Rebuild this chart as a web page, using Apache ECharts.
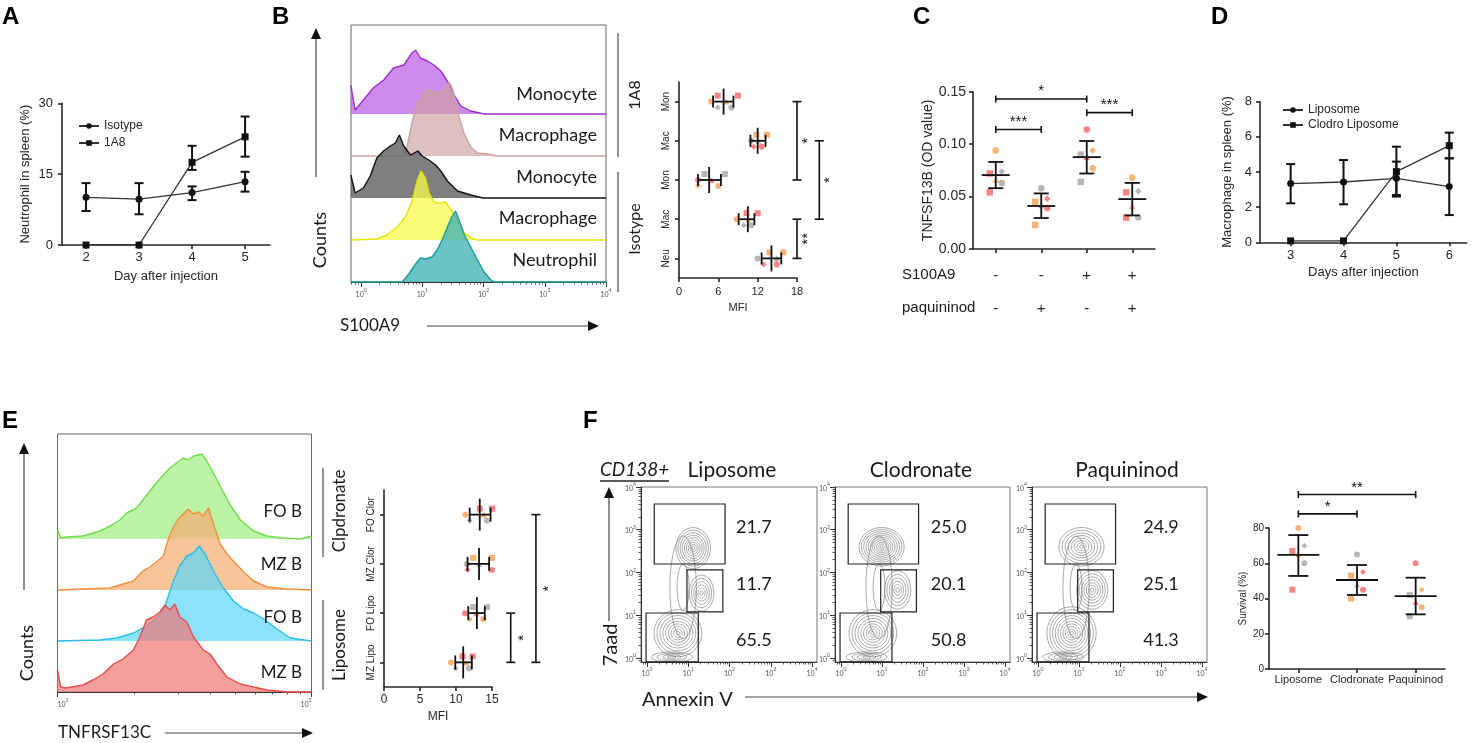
<!DOCTYPE html>
<html><head><meta charset="utf-8">
<script src="https://cdn.jsdelivr.net/npm/echarts@6/dist/echarts.min.js"></script>
<style>html,body{margin:0;padding:0;background:#fff}#c{width:1477px;height:743px}</style>
</head><body><div id="c"></div>
<script>
// ================= DATA =================
// Panel A
const A_DAYS = [2, 3, 4, 5];
const A_ISOTYPE = [10.1, 9.7, 11.1, 13.4];
const A_ISOTYPE_LO = [7.2, 6.5, 9.5, 11.3];
const A_ISOTYPE_HI = [13.1, 13.1, 12.4, 15.5];
const A_1A8 = [0, 0, 17.5, 22.9];
const A_1A8_LO = [0, 0, 15.9, 18.7];
const A_1A8_HI = [0, 0, 21.0, 27.2];

// Panel B histograms [S100A9 intensity, counts]
const B_HIST_LABELS = ['Monocyte', 'Macrophage', 'Monocyte', 'Macrophage', 'Neutrophil'];
const B_MON_1A8 = [[0.68,29],[0.80,4],[1.09,14],[1.58,26],[2.34,34],[3.39,46],[5.0,49],[6.76,61],[7.76,64],[9.33,56],[12.0,53],[15.5,49],[20.0,43],[25.7,33],[33.1,19],[42.7,8],[61.7,3],[102,0],[10000,0]];
const B_MAC_1A8 = [[0.68,0],[5.0,0],[5.62,9],[6.76,33],[8.32,53],[10.7,63],[12.0,67],[15.5,64],[20.0,64],[24.0,69],[28.2,73],[30.9,68],[35.5,53],[39.8,39],[47.9,23],[61.7,9],[79.4,3],[117,2],[162,0],[10000,0]];
const B_MON_ISO = [[0.68,23],[0.80,5],[1.09,10],[1.41,22],[1.81,40],[2.33,47],[3.0,52],[3.63,55],[4.22,63],[4.97,52],[6.4,43],[8.45,47],[9.95,42],[12.8,38],[16.5,33],[20.0,27],[25.7,17],[37.6,7],[61.7,3],[97.7,0],[10000,0]];
const B_MAC_ISO = [[0.68,0],[1.81,1],[2.63,5],[3.89,13],[5.25,23],[6.76,38],[8.32,60],[9.55,69],[11.2,62],[12.9,47],[15.5,38],[18.6,37],[24.0,38],[29.5,30],[37.6,20],[47.9,8],[61.7,2],[79.4,0],[10000,0]];
const B_NEU_ISO = [[0.68,0],[4.68,0],[6.03,8],[7.76,18],[9.33,24],[11.2,23],[14.5,25],[17.8,33],[21.4,43],[25.7,55],[30.2,65],[34.7,71],[39.8,62],[47.9,48],[61.7,35],[79.4,22],[102,10],[132,2],[151,0],[10000,0]];

// Panel B dot plot (MFI)
const B_CATS = ['Mon', 'Mac', 'Mon', 'Mac', 'Neu'];
const B_MEAN = [6.8, 12.0, 4.6, 10.5, 14.1];
const B_SD_LO = [5.2, 10.9, 2.9, 9.1, 12.6];
const B_SD_HI = [8.3, 13.2, 6.4, 11.5, 15.6];
const B_POINTS = [[4.9,5.9,5.9,7.2,8.0,9.0],[11.0,11.4,11.8,12.1,12.6,13.4],[2.9,2.9,3.9,5.0,6.0,7.0],[8.8,9.9,10.3,10.6,11.0,12.0],[12.0,12.9,13.8,14.9,14.9,15.9]];
const B_BRACKETS = [[0, 2, 18.0, '*'], [1, 3, 21.4, '*'], [3, 4, 18.0, '**']];

// Panel C
const C_CATS = ['S-P-', 'S-P+', 'S+P-', 'S+P+'];
const C_S100A9 = ['-', '-', '+', '+'];
const C_PAQ = ['-', '+', '-', '+'];
const C_MEAN = [0.0705, 0.041, 0.0876, 0.0476];
const C_SD_LO = [0.058, 0.0295, 0.072, 0.032];
const C_SD_HI = [0.083, 0.053, 0.103, 0.063];
const C_POINTS = [[0.094,0.074,0.072,0.066,0.063,0.054],[0.058,0.048,0.045,0.042,0.039,0.023],[0.114,0.094,0.090,0.088,0.077,0.064],[0.068,0.055,0.054,0.041,0.030,0.030]];
const C_BRACKETS = [[0, 2, 0.143, '*'], [0, 1, 0.114, '***'], [2, 3, 0.130, '***']];

// Panel D
const D_DAYS = [3, 4, 5, 6];
const D_LIPO = [3.34, 3.43, 3.64, 3.17];
const D_LIPO_LO = [2.22, 2.16, 2.6, 1.55];
const D_LIPO_HI = [4.45, 4.68, 4.59, 4.78];
const D_CLODRO = [0.08, 0.08, 4.02, 5.5];
const D_CLODRO_LO = [0.08, 0.08, 2.69, 4.78];
const D_CLODRO_HI = [0.08, 0.08, 5.44, 6.24];

// Panel E histograms [TNFRSF13C intensity, counts]
const E_HIST_LABELS = ['FO B', 'MZ B', 'FO B', 'MZ B'];
const E_FO_CLOR = [[10,9],[10.3,1],[10.8,2],[12.6,3],[14.7,8],[16.1,13],[17.6,19],[18.7,26],[20.5,31],[21.7,39],[23.1,48],[24.5,56],[26.1,64],[27.7,71],[29.4,76],[31.3,81],[32.7,79],[34.3,83],[37.0,85],[38.7,78],[41.1,66],[43.7,53],[47.9,34],[52.5,19],[59.2,8],[66.8,3],[77.6,1],[90.6,0],[100,3]];
const E_MZ_CLOR = [[10,0],[12.6,1],[16.1,2],[19.9,9],[21.7,19],[23.1,23],[24.5,28],[26.1,34],[27.3,51],[28.6,63],[29.9,71],[31.3,76],[32.7,81],[34.3,76],[35.9,78],[37.5,74],[39.3,82],[41.1,66],[43.7,46],[46.5,36],[49.3,29],[54.1,18],[59.2,9],[66.8,3],[80.2,1],[100,0]];
const E_FO_LIPO = [[10,0],[14.7,1],[17.1,3],[19.9,8],[22.4,15],[24.5,23],[26.1,30],[27.3,45],[28.6,60],[30.3,75],[32.3,85],[34.3,88],[36.1,95],[38.1,87],[41.1,70],[45.0,53],[49.3,40],[54.1,32],[59.2,28],[64.9,22],[73.1,12],[82.6,3],[100,0]];
const E_MZ_LIPO = [[10,22],[10.3,5],[10.8,4],[12.6,7],[13.8,12],[15.1,18],[16.6,28],[18.1,33],[19.9,42],[21.1,55],[22.4,72],[23.8,75],[25.3,80],[26.5,87],[27.7,82],[29.0,88],[30.3,75],[32.3,70],[34.3,55],[37.5,42],[39.9,38],[42.4,28],[46.5,15],[52.5,8],[59.2,5],[66.8,2],[80.2,0],[100,0]];

// Panel E dot plot
const E_CATS = ['FO Clor', 'MZ Clor', 'FO Lipo', 'MZ Lipo'];
const E_MEAN = [13.3, 13.2, 12.9, 11.0];
const E_SD_LO = [11.9, 11.6, 11.7, 9.9];
const E_SD_HI = [14.8, 14.6, 14.0, 12.2];
const E_POINTS = [[11.3,11.9,13.3,13.9,14.3,15.0],[11.5,11.6,12.4,13.2,15.0,15.0],[11.25,11.9,12.4,12.8,13.8,14.3],[9.3,9.95,10.9,11.4,11.8,12.3]];
const E_BRACKETS = [[2, 3, 17.6, '*'], [0, 3, 21.1, '*']];

// Panel F flow plots (Annexin V x, 7aad y)
const F_TITLES = ['Liposome', 'Clodronate', 'Paquininod'];
const F_GATE_PCT = [[21.7, 11.7, 65.5], [25.0, 20.1, 50.8], [24.9, 25.1, 41.3]];
const F_GATES = [[1.5, 78, 158, 4000], [9.3, 69, 12, 115], [0.95, 17.5, 0.81, 11.3]];
// populations: [centre AnnexinV, centre 7aad, spread x (decades), spread y (decades), contour levels]
const F_POPS = [
  [[13.2,372,0.42,0.48,9],[21,33,0.30,0.42,6],[5.6,3.8,0.58,0.55,9],[4.0,1.05,0.5,0.12,4],[7.5,45,0.32,1.2,2]],
  [[9.8,400,0.55,0.45,11],[24,39,0.32,0.45,6],[6.0,3.8,0.58,0.55,9],[4.2,1.05,0.5,0.12,4],[8.5,45,0.32,1.2,2]],
  [[11.5,400,0.55,0.45,8],[21,39,0.38,0.45,7],[6.6,3.8,0.6,0.62,10],[4.1,1.05,0.5,0.12,4],[8.5,45,0.32,1.2,2]]
];
const F_LABEL_X = [390, 420, 1000];
const F_LABEL_Y = [1150, 54, 2.6];

// Panel F survival
const F_CATS = ['Liposome', 'Clodronate', 'Paquininod'];
const F_MEAN = [64.7, 50.5, 41.4];
const F_SD_LO = [52.8, 42.0, 31.0];
const F_SD_HI = [76.0, 59.0, 51.8];
const F_POINTS = [[80,70,67,65,60,45],[65,55,53,48,45,40],[60,45,42,38,35,30]];
const F_BRACKETS = [[0, 1, 88, '*'], [0, 2, 99, '**']];

// ================= STYLE =================
const FONT_GP = '"Liberation Sans", Arial, sans-serif';
const FONT_FJ = 'Lato, "Open Sans", sans-serif';
const INK = '#262626';
const POINT_COLORS = ['#f5a65b', '#a9a9a9', '#f46e6e', '#f5a65b', '#a9a9a9', '#f46e6e'];
const POINT_SYMBOLS = ['circle', 'diamond', 'rect', 'triangle', 'circle', 'rect'];
const JITTER = [0, 6, -6, 0, 6, -6];
const B_LINE = ['#9b30d0', '#c9a3a3', '#111111', '#e6e600', '#1a9a9a'];
const B_FILL = ['rgba(190,100,228,0.75)', 'rgba(205,160,160,0.65)', 'rgba(105,105,105,0.85)', 'rgba(250,250,80,0.75)', 'rgba(70,180,180,0.8)'];
const E_LINE = ['#6fdc4a', '#f0903c', '#2bbde8', '#e84c4c'];
const E_FILL = ['rgba(160,240,130,0.7)', 'rgba(245,175,115,0.72)', 'rgba(90,215,250,0.7)', 'rgba(240,120,120,0.72)'];

// ================= BUILD =================
const grid = [], xAxis = [], yAxis = [], series = [], G = [];
function addGrid(g) { grid.push(Object.assign({containLabel: false}, g)); return grid.length - 1; }
function addX(a) { xAxis.push(a); return xAxis.length - 1; }
function addY(a) { yAxis.push(a); return yAxis.length - 1; }
const gpLine = {show: true, onZero: false, lineStyle: {color: INK, width: 1.6}};
const gpTick = (len, vals) => Object.assign({show: true, length: len, lineStyle: {color: INK, width: 1.6}}, vals ? {customValues: vals} : {});
const gpLabel = (size, margin, extra) => Object.assign({fontSize: size, margin, color: INK, fontFamily: FONT_GP}, extra || {});
const gpName = size => ({fontSize: size, color: INK, fontFamily: FONT_GP});
const noSplit = {show: false};

function supFmt(v) { const e = Math.round(Math.log10(v)); return '{b|10}{s|' + e + '}'; }
const SUP_RICH = {b: {fontSize: 7, color: '#555', fontFamily: FONT_FJ, verticalAlign: 'bottom', lineHeight: 10},
                  s: {fontSize: 5, color: '#555', fontFamily: FONT_FJ, verticalAlign: 'top', lineHeight: 10}};
function minorLogTicks(lo, hi) {
  const out = [];
  for (let d = Math.floor(Math.log10(lo)); d <= Math.ceil(Math.log10(hi)); d++)
    for (let k = 2; k <= 9; k++) { const v = k * Math.pow(10, d); if (v > lo && v < hi) out.push(v); }
  return out;
}
function logAxisPair(kind, g, min, max, majors, showLabels, position, labelExtra) {
  const add = kind === 'x' ? addX : addY;
  const base = {gridIndex: g, type: 'log', logBase: 10, min, max, position, splitLine: noSplit, minorTick: {show: false}, minorSplitLine: {show: false}};
  const i = add(Object.assign({}, base, {
    axisLine: {show: true, onZero: false, lineStyle: {color: '#333', width: 1}},
    axisTick: {show: true, customValues: majors, length: 5, lineStyle: {color: '#333', width: 1}},
    axisLabel: Object.assign({show: showLabels, customValues: majors, formatter: supFmt, rich: SUP_RICH, margin: 4}, labelExtra || {})
  }));
  add(Object.assign({}, base, {
    axisLine: {show: false},
    axisTick: {show: true, customValues: minorLogTicks(min, max), length: 2.5, lineStyle: {color: '#333', width: 0.8}},
    axisLabel: {show: false}
  }));
  return i;
}
function L(x1, y1, x2, y2, st) { return {type: 'line', shape: {x1, y1, x2, y2}, style: st}; }

function errBarSeries(xi, yi, xs, lo, hi) {
  const data = [];
  xs.forEach((x, i) => { if (hi[i] > lo[i]) data.push([x, lo[i], hi[i]]); });
  return {type: 'custom', xAxisIndex: xi, yAxisIndex: yi, data, encode: {x: 0, y: [1, 2]}, z: 4, silent: true,
    renderItem: (p, api) => {
      const x = api.value(0), a = api.coord([x, api.value(1)]), b = api.coord([x, api.value(2)]);
      const st = {stroke: '#111', lineWidth: 2};
      return {type: 'group', children: [L(a[0], a[1], b[0], b[1], st), L(a[0] - 4.5, a[1], a[0] + 4.5, a[1], st), L(b[0] - 4.5, b[1], b[0] + 4.5, b[1], st)]};
    }};
}
function dotSeries(xi, yi, pts, valueOnX, size) {
  const data = [];
  pts.forEach((arr, c) => arr.forEach((v, k) => {
    data.push({value: valueOnX ? [v, c] : [c, v], symbol: POINT_SYMBOLS[k % 6],
      symbolOffset: valueOnX ? [0, JITTER[k % 6]] : [JITTER[k % 6], 0],
      itemStyle: {color: POINT_COLORS[(k + c) % 6], opacity: 0.85}});
  }));
  return {type: 'scatter', xAxisIndex: xi, yAxisIndex: yi, data, symbolSize: size, z: 2, silent: true};
}
function meanSdSeries(xi, yi, means, lo, hi, valueOnX, meanHalf, capHalf) {
  return {type: 'custom', xAxisIndex: xi, yAxisIndex: yi, z: 5, silent: true, clip: false,
    data: means.map((m, c) => valueOnX ? [m, c, lo[c], hi[c]] : [c, m, lo[c], hi[c]]),
    encode: valueOnX ? {x: [0, 2, 3], y: 1} : {x: 0, y: [1, 2, 3]},
    renderItem: (p, api) => {
      const st = {stroke: '#111', lineWidth: 1.8};
      let ch;
      if (valueOnX) {
        const c = api.value(1), pm = api.coord([api.value(0), c]), pl = api.coord([api.value(2), c]), ph = api.coord([api.value(3), c]);
        ch = [L(pm[0], pm[1] - meanHalf, pm[0], pm[1] + meanHalf, st), L(pl[0], pl[1], ph[0], ph[1], st),
              L(pl[0], pl[1] - capHalf, pl[0], pl[1] + capHalf, st), L(ph[0], ph[1] - capHalf, ph[0], ph[1] + capHalf, st)];
      } else {
        const c = api.value(0), pm = api.coord([c, api.value(1)]), pl = api.coord([c, api.value(2)]), ph = api.coord([c, api.value(3)]);
        ch = [L(pm[0] - meanHalf, pm[1], pm[0] + meanHalf, pm[1], st), L(pl[0], pl[1], ph[0], ph[1], st),
              L(pl[0] - capHalf, pl[1], pl[0] + capHalf, pl[1], st), L(ph[0] - capHalf, ph[1], ph[0] + capHalf, ph[1], st)];
      }
      return {type: 'group', children: ch};
    }};
}
function bracketSeries(xi, yi, brackets, valueOnX, capHalf, textGap, fontSize) {
  return {type: 'custom', xAxisIndex: xi, yAxisIndex: yi, clip: false, z: 6, silent: true,
    data: brackets.map(b => valueOnX ? [b[2], b[0], b[1]] : [b[0], b[2], b[1]]),
    encode: valueOnX ? {x: 0, y: [1, 2]} : {x: [0, 2], y: 1},
    renderItem: (p, api) => {
      const lab = brackets[p.dataIndex][3];
      const st = {stroke: '#111', lineWidth: 1.6};
      let a, b, tx, ty, rot = 0;
      const ch = [];
      if (valueOnX) {
        const lv = api.value(0); a = api.coord([lv, api.value(1)]); b = api.coord([lv, api.value(2)]);
        ch.push(L(a[0], a[1], b[0], b[1], st), L(a[0] - capHalf, a[1], a[0] + capHalf, a[1], st), L(b[0] - capHalf, b[1], b[0] + capHalf, b[1], st));
        tx = a[0] + textGap; ty = (a[1] + b[1]) / 2; rot = Math.PI / 2;
      } else {
        const lv = api.value(1); a = api.coord([api.value(0), lv]); b = api.coord([api.value(2), lv]);
        ch.push(L(a[0], a[1], b[0], b[1], st), L(a[0], a[1] - capHalf, a[0], a[1] + capHalf, st), L(b[0], b[1] - capHalf, b[0], b[1] + capHalf, st));
        tx = (a[0] + b[0]) / 2; ty = a[1] - textGap;
      }
      ch.push({type: 'text', x: tx, y: ty, rotation: rot, style: {text: lab, fill: '#111', font: fontSize + 'px ' + FONT_GP, align: 'center', verticalAlign: 'middle'}});
      return {type: 'group', children: ch};
    }};
}

// ---------- Panel A ----------
const gA = addGrid({left: 62, top: 103.3, width: 208, height: 141.7});
const xA = addX({gridIndex: gA, type: 'value', min: 1.547, max: 5.47, axisLine: gpLine, axisTick: gpTick(4, A_DAYS), axisLabel: gpLabel(13, 6, {customValues: A_DAYS}), splitLine: noSplit,
  name: 'Day after injection', nameLocation: 'middle', nameGap: 25, nameTextStyle: gpName(13)});
const yA = addY({gridIndex: gA, type: 'value', min: 0, max: 30, interval: 15, axisLine: gpLine, axisTick: gpTick(4), axisLabel: gpLabel(13, 9), splitLine: noSplit,
  name: 'Neutrophil in spleen (%)', nameLocation: 'middle', nameGap: 30, nameTextStyle: gpName(13)});
series.push({type: 'line', name: 'Isotype', xAxisIndex: xA, yAxisIndex: yA, data: A_DAYS.map((d, i) => [d, A_ISOTYPE[i]]), symbol: 'circle', symbolSize: 7, lineStyle: {color: '#333', width: 1.3}, itemStyle: {color: '#111'}, z: 3});
series.push({type: 'line', name: '1A8', xAxisIndex: xA, yAxisIndex: yA, data: A_DAYS.map((d, i) => [d, A_1A8[i]]), symbol: 'rect', symbolSize: 7, lineStyle: {color: '#333', width: 1.3}, itemStyle: {color: '#111'}, z: 3});
series.push(errBarSeries(xA, yA, A_DAYS, A_ISOTYPE_LO, A_ISOTYPE_HI));
series.push(errBarSeries(xA, yA, A_DAYS, A_1A8_LO, A_1A8_HI));

// ---------- Panel B histograms ----------
const B_HISTS = [B_MON_1A8, B_MAC_1A8, B_MON_ISO, B_MAC_ISO, B_NEU_ISO];
const gBf = addGrid({left: 351, top: 25, width: 255, height: 257, show: true, borderColor: '#666', borderWidth: 1, backgroundColor: 'transparent'});
addX({gridIndex: gBf, type: 'value', show: false}); addY({gridIndex: gBf, type: 'value', show: false});
for (let r = 0; r < 5; r++) {
  const g = addGrid({left: 351, top: 72 + 42 * r, width: 255, height: 42});
  let xi;
  if (r === 4) xi = logAxisPair('x', g, 0.684, 10000, [1, 10, 100, 1000, 10000], true, 'bottom', {margin: 6});
  else xi = addX({gridIndex: g, type: 'log', logBase: 10, min: 0.684, max: 10000, show: false, splitLine: noSplit});
  const yi = addY({gridIndex: g, type: 'value', min: 0, max: 42, show: false, splitLine: noSplit});
  series.push({type: 'line', name: 'B hist ' + r, xAxisIndex: xi, yAxisIndex: yi, data: B_HISTS[r], symbol: 'none', clip: false, silent: true,
    lineStyle: {color: B_LINE[r], width: 1.4}, areaStyle: {color: B_FILL[r], opacity: 1}, z: 2 + r});
}

// ---------- Panel B dot plot ----------
const gBd = addGrid({left: 679, top: 82, width: 118, height: 196});
const xBd = addX({gridIndex: gBd, type: 'value', min: 0, max: 18, interval: 6, axisLine: gpLine, axisTick: gpTick(4), axisLabel: gpLabel(11, 8), splitLine: noSplit,
  name: 'MFI', nameLocation: 'middle', nameGap: 24, nameTextStyle: gpName(11)});
const yBd = addY({gridIndex: gBd, type: 'category', data: B_CATS, inverse: true, axisLine: gpLine, axisTick: Object.assign(gpTick(4), {alignWithLabel: true}), axisLabel: gpLabel(10, 8, {rotate: 90, interval: 0})});
series.push(dotSeries(xBd, yBd, B_POINTS, true, 6));
series.push(meanSdSeries(xBd, yBd, B_MEAN, B_SD_LO, B_SD_HI, true, 13, 6));
series.push(bracketSeries(xBd, yBd, B_BRACKETS, true, 4.5, 11, 15));

// ---------- Panel C ----------
const gC = addGrid({left: 973, top: 91.7, width: 182, height: 157.3});
const xC = addX({gridIndex: gC, type: 'category', data: C_CATS, axisLine: gpLine, axisTick: Object.assign(gpTick(4), {alignWithLabel: true}),
  axisLabel: gpLabel(15, 10, {formatter: (v, i) => C_S100A9[i] + '\n' + C_PAQ[i], lineHeight: 33, interval: 0})});
const yC = addY({gridIndex: gC, type: 'value', min: 0, max: 0.15, interval: 0.05, axisLine: gpLine, axisTick: gpTick(4), axisLabel: gpLabel(14, 7, {formatter: v => v.toFixed(2)}), splitLine: noSplit,
  name: 'TNFSF13B (OD value)', nameLocation: 'middle', nameGap: 34, nameTextStyle: gpName(14)});
series.push(dotSeries(xC, yC, C_POINTS, false, 6.5));
series.push(meanSdSeries(xC, yC, C_MEAN, C_SD_LO, C_SD_HI, false, 14, 7.5));
series.push(bracketSeries(xC, yC, C_BRACKETS, false, 3.5, 8, 15));

// ---------- Panel D ----------
const gD = addGrid({left: 1260, top: 101.7, width: 206.7, height: 140.6});
const xD = addX({gridIndex: gD, type: 'value', min: 2.42, max: 6.33, axisLine: gpLine, axisTick: gpTick(4, D_DAYS), axisLabel: gpLabel(13, 7, {customValues: D_DAYS}), splitLine: noSplit,
  name: 'Days after injection', nameLocation: 'middle', nameGap: 24, nameTextStyle: gpName(13)});
const yD = addY({gridIndex: gD, type: 'value', min: 0, max: 8, interval: 2, axisLine: gpLine, axisTick: gpTick(4), axisLabel: gpLabel(13, 8), splitLine: noSplit,
  name: 'Macrophage in spleen (%)', nameLocation: 'middle', nameGap: 26, nameTextStyle: gpName(13)});
series.push({type: 'line', name: 'Liposome', xAxisIndex: xD, yAxisIndex: yD, data: D_DAYS.map((d, i) => [d, D_LIPO[i]]), symbol: 'circle', symbolSize: 7, lineStyle: {color: '#333', width: 1.3}, itemStyle: {color: '#111'}, z: 3});
series.push({type: 'line', name: 'Clodro Liposome', xAxisIndex: xD, yAxisIndex: yD, data: D_DAYS.map((d, i) => [d, D_CLODRO[i]]), symbol: 'rect', symbolSize: 7, lineStyle: {color: '#333', width: 1.3}, itemStyle: {color: '#111'}, z: 3});
series.push(errBarSeries(xD, yD, D_DAYS, D_LIPO_LO, D_LIPO_HI));
series.push(errBarSeries(xD, yD, D_DAYS, D_CLODRO_LO, D_CLODRO_HI));

// ---------- Panel E histograms ----------
const E_HISTS = [E_FO_CLOR, E_MZ_CLOR, E_FO_LIPO, E_MZ_LIPO];
const gEf = addGrid({left: 57.5, top: 434, width: 254, height: 258, show: true, borderColor: '#666', borderWidth: 1, backgroundColor: 'transparent'});
addX({gridIndex: gEf, type: 'value', show: false}); addY({gridIndex: gEf, type: 'value', show: false});
for (let r = 0; r < 4; r++) {
  const g = addGrid({left: 57.5, top: 488 + 51 * r, width: 254, height: 51});
  let xi;
  if (r === 3) xi = logAxisPair('x', g, 10, 100, [10, 100], true, 'bottom', {margin: 6, alignMinLabel: 'left', alignMaxLabel: 'right'});
  else xi = addX({gridIndex: g, type: 'log', logBase: 10, min: 10, max: 100, show: false, splitLine: noSplit});
  const yi = addY({gridIndex: g, type: 'value', min: 0, max: 51, show: false, splitLine: noSplit});
  series.push({type: 'line', name: 'E hist ' + r, xAxisIndex: xi, yAxisIndex: yi, data: E_HISTS[r], symbol: 'none', clip: false, silent: true,
    lineStyle: {color: E_LINE[r], width: 1.4}, areaStyle: {color: E_FILL[r], opacity: 1}, z: 2 + r});
}

// ---------- Panel E dot plot ----------
const gEd = addGrid({left: 384, top: 490, width: 108, height: 197});
const xEd = addX({gridIndex: gEd, type: 'value', min: 0, max: 15, interval: 5, axisLine: gpLine, axisTick: gpTick(4), axisLabel: gpLabel(12, 7), splitLine: noSplit,
  name: 'MFI', nameLocation: 'middle', nameGap: 24, nameTextStyle: gpName(12)});
const yEd = addY({gridIndex: gEd, type: 'category', data: E_CATS, inverse: true, axisLine: gpLine, axisTick: Object.assign(gpTick(4), {alignWithLabel: true}), axisLabel: gpLabel(10, 8, {rotate: 90, interval: 0})});
series.push(dotSeries(xEd, yEd, E_POINTS, true, 6));
series.push(meanSdSeries(xEd, yEd, E_MEAN, E_SD_LO, E_SD_HI, true, 16, 7));
series.push(bracketSeries(xEd, yEd, E_BRACKETS, true, 4.5, 13, 15));

// ---------- Panel F flow plots ----------
const F_LEFTS = [641, 835, 1032], F_WIDTHS = [176, 175, 175];
for (let i = 0; i < 3; i++) {
  const g = addGrid({left: F_LEFTS[i], top: 487, width: F_WIDTHS[i], height: 175, show: true, borderColor: '#777', borderWidth: 1, backgroundColor: 'transparent'});
  const xi = logAxisPair('x', g, 0.716, 13200, [1, 10, 100, 1000, 10000], true, 'bottom', {margin: 5});
  const yi = logAxisPair('y', g, 0.806, 10000, [1, 10, 100, 1000, 10000], true, 'left', {margin: 5});
  series.push({type: 'custom', xAxisIndex: xi, yAxisIndex: yi, clip: true, z: 2, silent: true, data: F_POPS[i], encode: {x: 0, y: 1},
    renderItem: (p, api) => {
      const cx = Math.log10(api.value(0)), cy = Math.log10(api.value(1)), sx = api.value(2), sy = api.value(3), n = api.value(4);
      const ch = [];
      for (let k = 1; k <= n; k++) {
        const f = Math.pow(k / n, 1.15), pts = [];
        for (let t = 0; t < 44; t++) {
          const a = t / 44 * 2 * Math.PI;
          pts.push(api.coord([Math.pow(10, cx + f * sx * Math.cos(a)), Math.pow(10, cy + f * sy * Math.sin(a))]));
        }
        ch.push({type: 'polygon', shape: {points: pts}, style: {fill: 'none', stroke: '#707070', lineWidth: 0.6}});
      }
      return {type: 'group', children: ch};
    }});
  series.push({type: 'custom', xAxisIndex: xi, yAxisIndex: yi, clip: false, z: 4, silent: true, data: F_GATES, encode: {x: [0, 1], y: [2, 3]},
    renderItem: (p, api) => {
      const a = api.coord([api.value(0), api.value(3)]), b = api.coord([api.value(1), api.value(2)]);
      return {type: 'rect', shape: {x: a[0], y: a[1], width: b[0] - a[0], height: b[1] - a[1]}, style: {fill: 'none', stroke: '#222', lineWidth: 1.2}};
    }});
  series.push({type: 'custom', xAxisIndex: xi, yAxisIndex: yi, clip: false, z: 5, silent: true,
    data: F_GATE_PCT[i].map((v, k) => [F_LABEL_X[i], F_LABEL_Y[k], v]), encode: {x: 0, y: 1},
    renderItem: (p, api) => {
      const c = api.coord([api.value(0), api.value(1)]);
      return {type: 'text', x: c[0], y: c[1], style: {text: api.value(2).toFixed(1), fill: '#1a1a1a', font: '18px ' + FONT_FJ, align: 'center', verticalAlign: 'middle'}};
    }});
}

// ---------- Panel F survival ----------
const gFd = addGrid({left: 1269, top: 528, width: 176, height: 141});
const xFd = addX({gridIndex: gFd, type: 'category', data: F_CATS, axisLine: gpLine, axisTick: Object.assign(gpTick(4), {alignWithLabel: true}), axisLabel: gpLabel(11, 5, {interval: 0, hideOverlap: false})});
const yFd = addY({gridIndex: gFd, type: 'value', min: 0, max: 80, interval: 20, axisLine: gpLine, axisTick: gpTick(4), axisLabel: gpLabel(10, 5), splitLine: noSplit,
  name: 'Survival (%)', nameLocation: 'middle', nameGap: 21, nameTextStyle: gpName(10)});
series.push(dotSeries(xFd, yFd, F_POINTS, false, 6));
series.push(meanSdSeries(xFd, yFd, F_MEAN, F_SD_LO, F_SD_HI, false, 21, 10));
series.push(bracketSeries(xFd, yFd, F_BRACKETS, false, 3.5, 7, 15));

// ================= ANNOTATION TEXT / ARROWS =================
function txt(x, y, text, size, o) {
  o = o || {};
  G.push({type: 'text', x, y, rotation: o.rot || 0, silent: true, z: 100,
    style: {text, fill: o.color || '#1a1a1a', font: (o.style || 'normal') + ' ' + (o.weight || 'normal') + ' ' + size + 'px ' + (o.family || FONT_FJ),
      align: o.align || 'center', verticalAlign: o.va || 'middle'}});
}
function seg(x1, y1, x2, y2, color, w) { G.push({type: 'line', silent: true, z: 100, shape: {x1, y1, x2, y2}, style: {stroke: color || '#555', lineWidth: w || 1.3}}); }
function arrowUp(x, tip, end) { seg(x, end, x, tip + 8, '#444', 1.2); G.push({type: 'polygon', silent: true, z: 100, shape: {points: [[x - 5, tip + 11], [x + 5, tip + 11], [x, tip]]}, style: {fill: '#111'}}); }
function arrowRight(y, start, tip) { seg(start, y, tip - 8, y, '#444', 1.2); G.push({type: 'polygon', silent: true, z: 100, shape: {points: [[tip - 11, y - 5], [tip - 11, y + 5], [tip, y]]}, style: {fill: '#111'}}); }

// panel letters
[['A', 2, 17], ['B', 272, 17], ['C', 913, 17], ['D', 1211, 17], ['E', 2, 421], ['F', 583, 421]].forEach(l =>
  txt(l[1], l[2], l[0], 24, {weight: 'bold', family: FONT_GP, align: 'left', color: '#000'}));

// B
arrowUp(316, 28, 177);
txt(320.5, 240, 'Counts', 18, {rot: Math.PI / 2});
txt(340, 326, 'S100A9', 17, {align: 'left'});
arrowRight(326, 427, 599);
[94, 135, 177, 218, 260].forEach((y, i) => txt(597, y, B_HIST_LABELS[i], 18, {align: 'right'}));
seg(618, 33, 618, 157, '#666', 1.4); seg(618, 172, 618, 292, '#666', 1.4);
txt(635, 95, '1A8', 16, {rot: Math.PI / 2});
txt(635, 229, 'Isotype', 16, {rot: Math.PI / 2});

// C row labels
txt(902, 275, 'S100A9', 15, {align: 'left', family: FONT_GP});
txt(902, 308, 'paquininod', 15, {align: 'left', family: FONT_GP});

// E
arrowUp(24, 443, 590);
txt(27, 653, 'Counts', 18, {rot: Math.PI / 2});
txt(58, 733, 'TNFRSF13C', 17, {align: 'left'});
arrowRight(733, 165, 313);
[512, 565, 618, 673].forEach((y, i) => txt(302, y, E_HIST_LABELS[i], 17, {align: 'right'}));
seg(323, 468, 323, 557, '#666', 1.4); seg(323, 600, 323, 690, '#666', 1.4);
txt(340, 511, 'Clpdronate', 17, {rot: Math.PI / 2});
txt(340, 645, 'Liposome', 17, {rot: Math.PI / 2});

// F
txt(600, 470, 'CD138+', 19, {align: 'left', style: 'italic'});
seg(600, 481, 669, 481, '#222', 1.4);
[732, 921, 1127].forEach((x, i) => txt(x, 470, F_TITLES[i], 21));
arrowUp(609, 487, 621);
txt(611, 645, '7aad', 20, {rot: Math.PI / 2});
txt(642, 700, 'Annexin V', 20, {align: 'left'});
arrowRight(697, 745, 1208);

const option = {
  animation: false,
  backgroundColor: '#fff',
  grid, xAxis, yAxis, series, graphic: G,
  legend: [
    {data: ['Isotype', '1A8'], left: 73, top: 115, orient: 'vertical', itemWidth: 20, itemHeight: 7, itemGap: 5, selectedMode: false,
     textStyle: {fontSize: 12, fontFamily: FONT_GP, color: INK}},
    {data: ['Liposome', 'Clodro Liposome'], left: 1277, top: 99, orient: 'vertical', itemWidth: 20, itemHeight: 7, itemGap: 3, selectedMode: false,
     textStyle: {fontSize: 12, fontFamily: FONT_GP, color: INK}}
  ]
};
const chart = echarts.init(document.getElementById('c'));
chart.setOption(option);
</script>
</body></html>
